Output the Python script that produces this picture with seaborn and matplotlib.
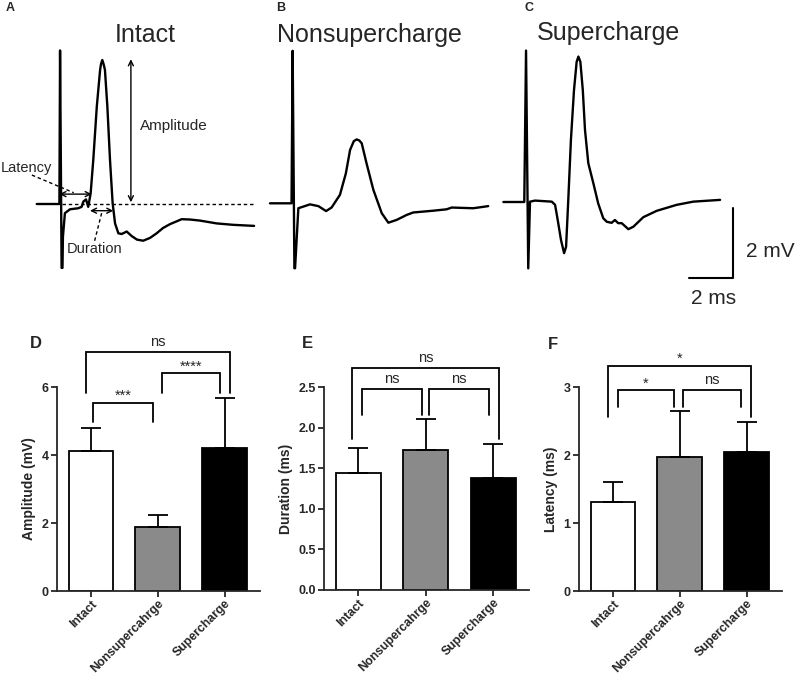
import matplotlib
matplotlib.use("Agg")
import matplotlib.pyplot as plt
import seaborn as sns
from matplotlib.ticker import FormatStrFormatter

sns.set_style("ticks")
plt.rcParams['font.family'] = ['Liberation Sans', 'DejaVu Sans']

# --- Example recordings: time after stimulus (ms), voltage from baseline (mV) ---
intact_t = [-1.08, -0.05, -0.02, 0.05, 0.09, 0.11, 0.20, 0.43, 0.81, 0.96, 1.04, 1.16, 1.26,
            1.37, 1.49, 1.65, 1.80, 1.84, 1.90, 1.96, 2.02, 2.13, 2.25, 2.37, 2.48, 2.63,
            2.78, 3.01, 3.24, 3.48, 3.76, 4.07, 4.37, 4.66, 4.98, 5.51, 5.89, 6.34, 7.10,
            7.85, 8.80]
intact_mv = [0.0, 0.0, 4.35, -1.81, -1.81, -0.93, -0.26, -0.15, -0.12, -0.08, 0.07, 0.13, -0.08,
             0.30, 1.25, 2.76, 3.80, 3.96, 4.08, 3.96, 3.80, 2.76, 1.25, 0.02, -0.55, -0.83,
             -0.85, -0.78, -0.91, -1.01, -1.04, -0.96, -0.83, -0.68, -0.57, -0.43, -0.44,
             -0.47, -0.55, -0.59, -0.62]

nonsuper_t = [-1.06, -0.08, -0.03, 0.05, 0.08, 0.23, 0.76, 1.14, 1.49, 1.74, 2.12, 2.39, 2.58,
              2.75, 2.88, 3.00, 3.11, 3.33, 3.64, 4.02, 4.32, 4.70, 5.15, 5.45, 6.36, 6.97,
              7.20, 8.18, 8.86]
nonsuper_mv = [0.0, 0.0, 4.32, -1.84, -1.84, -0.14, -0.03, -0.08, -0.22, -0.12, 0.24, 0.85, 1.51,
               1.76, 1.81, 1.78, 1.70, 1.13, 0.38, -0.28, -0.55, -0.47, -0.33, -0.26, -0.21,
               -0.17, -0.12, -0.14, -0.08]

super_t = [-1.06, -0.11, -0.03, 0.07, 0.15, 0.38, 1.14, 1.29, 1.41, 1.56, 1.70, 1.79, 1.89,
           2.01, 2.15, 2.27, 2.35, 2.44, 2.55, 2.65, 2.80, 3.03, 3.25, 3.48, 3.64, 3.86, 4.01,
           4.16, 4.32, 4.62, 4.85, 5.30, 5.91, 6.82, 7.57, 8.79]
super_mv = [0.0, 0.0, 4.29, -1.88, 0.01, 0.04, 0.01, -0.08, -0.51, -1.08, -1.45, -1.27, 0.06,
            1.76, 3.17, 3.97, 4.12, 3.97, 3.17, 2.04, 1.10, 0.53, -0.04, -0.46, -0.56, -0.59,
            -0.51, -0.60, -0.60, -0.77, -0.70, -0.43, -0.25, -0.08, 0.01, 0.06]

# --- Summary data (mean and upper error) ---
groups = ["Intact", "Nonsupercahrge", "Supercharge"]
bar_colors = ["white", "#8a8a8a", "black"]
amplitude_mean = [4.12, 1.89, 4.20]
amplitude_err = [0.68, 0.35, 1.48]
duration_mean = [1.44, 1.73, 1.38]
duration_err = [0.31, 0.37, 0.42]
latency_mean = [1.31, 1.97, 2.05]
latency_err = [0.30, 0.67, 0.43]

W, H = 800, 676
PX_MS, PX_MV = 22.0, 35.3

fig = plt.figure(figsize=(W / 100, H / 100), dpi=100)


def px_axes(x0, y0, x1, y1):
    return fig.add_axes([x0 / W, 1 - y1 / H, (x1 - x0) / W, (y1 - y0) / H])


def trace_panel(box, stim_x, base_y, t, mv):
    x0, y0, x1, y1 = box
    ax = px_axes(x0, y0, x1, y1)
    sns.lineplot(x=t, y=mv, ax=ax, color="black", lw=1.7, sort=False, estimator=None)
    ax.set_xlim((x0 - stim_x) / PX_MS, (x1 - stim_x) / PX_MS)
    ax.set_ylim((base_y - y1) / PX_MV, (base_y - y0) / PX_MV)
    ax.axis("off")
    return ax


# --- A: intact ---
axA = trace_panel((0, 20, 265, 300), 60.5, 204, intact_t, intact_mv)
axA.text(3.87, 4.79, "Intact", fontsize=18, ha="center", va="center")
axA.plot([0.07, 8.84], [0, 0], ls=(0, (2.5, 2)), lw=1, color="black")
arrow = dict(arrowstyle="<->", lw=1.0, color="black", shrinkA=0, shrinkB=0, mutation_scale=9)
axA.annotate("", xy=(3.2, 4.10), xytext=(3.2, 0.05), arrowprops=arrow)
axA.annotate("", xy=(-0.05, 0.28), xytext=(1.42, 0.28), arrowprops=arrow)
axA.annotate("", xy=(1.34, -0.19), xytext=(2.40, -0.19), arrowprops=arrow)
axA.plot([-1.30, 0.6], [0.82, 0.32], ls=(0, (2.5, 2)), lw=1, color="black")
axA.plot([1.87, 1.52], [-0.26, -1.12], ls=(0, (2.5, 2)), lw=1, color="black")
axA.text(3.61, 2.21, "Amplitude", fontsize=11, ha="left", va="center")
axA.text(-1.57, 1.02, "Latency", fontsize=10.5, ha="center", va="center")
axA.text(1.57, -1.28, "Duration", fontsize=10.5, ha="center", va="center")

# --- B: nonsupercharge ---
axB = trace_panel((265, 20, 500, 300), 293.3, 203.3, nonsuper_t, nonsuper_mv)
axB.text(-0.75, 4.77, "Nonsupercharge", fontsize=18, ha="left", va="center")

# --- C: supercharge + scale bar ---
axC = trace_panel((500, 20, 800, 320), 526.7, 202, super_t, super_mv)
axC.text(0.45, 4.79, "Supercharge", fontsize=18, ha="left", va="center")
axC.plot([7.39, 9.39, 9.39], [-2.16, -2.16, -0.16], color="black", lw=1.5)
axC.text(9.95, -1.41, "2 mV", fontsize=15, ha="left", va="center")
axC.text(8.48, -2.73, "2 ms", fontsize=15, ha="center", va="center")

for letter, (x, y), fs in [("A", (10, 8), 9), ("B", (281, 8), 9), ("C", (529, 8), 9),
                           ("D", (36, 343), 12), ("E", (307, 343), 12), ("F", (553, 344), 12)]:
    fig.text(x / W, 1 - y / H, letter, fontsize=fs, fontweight="bold", ha="center", va="center")


def bracket(ax, xa, xb, top, foot_a, foot_b, label):
    ax.plot([xa, xa, xb, xb], [foot_a, top, top, foot_b], color="black", lw=1.3,
            clip_on=False, solid_joinstyle="miter")
    off = 2.2 if "*" in label else 4.3
    ax.annotate(label, xy=((xa + xb) / 2, top), xytext=(0, off), textcoords="offset points",
                ha="center", va="baseline", fontsize=10.5, annotation_clip=False)


def bar_panel(box, means, errs, ylabel, ymax, yticks, fmt, brackets):
    ax = px_axes(*box)
    sns.barplot(x=groups, y=means, hue=groups, palette=bar_colors, legend=False,
                edgecolor="black", linewidth=1.3, width=0.67, saturation=1, ax=ax)
    ax.errorbar(range(3), means, yerr=[[0, 0, 0], errs], fmt="none", ecolor="black",
                elinewidth=1.3, capsize=7, capthick=1.3)
    ax.set_xlim(-0.51, 2.53)
    ax.set_ylim(0, ymax)
    ax.set_yticks(yticks)
    ax.yaxis.set_major_formatter(FormatStrFormatter(fmt))
    ax.set_ylabel(ylabel, fontsize=10, fontweight="bold", labelpad=4)
    ax.set_xlabel("")
    ax.tick_params(width=1.3, length=4, labelsize=9, pad=2)
    ax.tick_params(axis="x", pad=1, labelsize=8.8)
    for s in ["left", "bottom"]:
        ax.spines[s].set_linewidth(1.3)
    sns.despine(ax=ax)
    ax.set_xticks(range(3))
    ax.set_xticklabels(groups, rotation=45, ha="right", rotation_mode="anchor")
    for lab in ax.get_xticklabels() + ax.get_yticklabels():
        lab.set_fontweight("bold")
    for b in brackets:
        bracket(ax, *b)
    return ax


bar_panel((57, 387, 260, 591), amplitude_mean, amplitude_err, "Amplitude (mV)", 6,
          [0, 2, 4, 6], "%d",
          [(0.03, 0.93, 5.52, 4.98, 4.98, "***"),
           (1.06, 1.93, 6.40, 5.83, 5.83, "****"),
           (-0.08, 2.08, 7.04, 5.83, 5.83, "ns")])

bar_panel((324, 387, 529, 590), duration_mean, duration_err, "Duration (ms)", 2.5,
          [0, 0.5, 1.0, 1.5, 2.0, 2.5], "%.1f",
          [(0.05, 0.94, 2.47, 2.16, 2.16, "ns"),
           (1.04, 1.93, 2.47, 2.16, 2.16, "ns"),
           (-0.09, 2.08, 2.74, 1.86, 1.86, "ns")])

bar_panel((579, 387, 782, 591), latency_mean, latency_err, "Latency (ms)", 3,
          [0, 1, 2, 3], "%d",
          [(0.07, 0.91, 2.95, 2.71, 2.71, "*"),
           (1.04, 1.92, 2.95, 2.71, 2.71, "ns"),
           (-0.08, 2.06, 3.31, 2.56, 2.56, "*")])

plt.savefig("out.png", dpi=100)
